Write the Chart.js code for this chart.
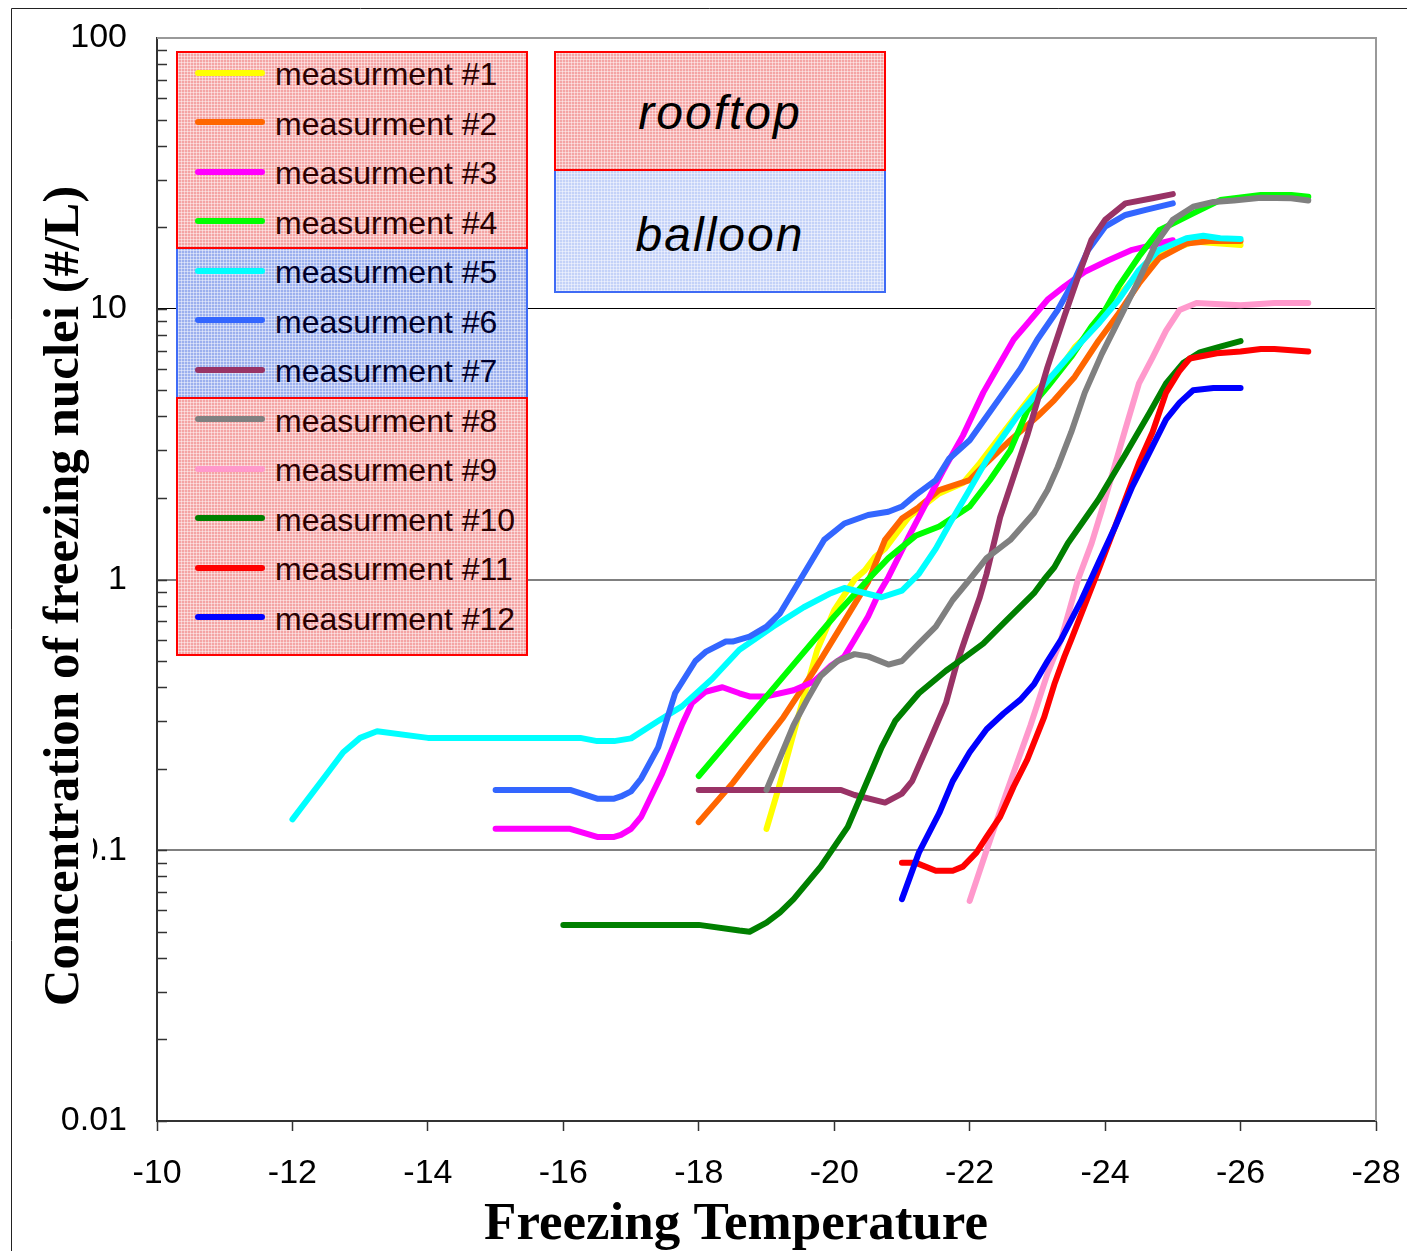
<!DOCTYPE html>
<html>
<head>
<meta charset="utf-8">
<title>Freezing nuclei</title>
<script src="https://cdn.jsdelivr.net/npm/chart.js@4.4.0/dist/chart.umd.min.js"></script>
<style>
  html, body { margin: 0; padding: 0; background: #fff; }
  #wrap { position: relative; width: 1407px; height: 1251px; overflow: hidden; }
  #chart { position: absolute; left: 0; top: 0; }
  .box { position: absolute; box-sizing: border-box; border: 2px solid #ff0000; }
  .red {
    background-color: #f4a4a4;
    background-image: linear-gradient(90deg, rgba(255,255,255,.45) 1px, transparent 1px),
                      linear-gradient(rgba(255,255,255,.45) 1px, transparent 1px);
    background-size: 3px 3px;
  }
  .blue {
    border-color: #3f6bf5;
    background-color: #9cb0ee;
    background-image: linear-gradient(90deg, rgba(255,255,255,.45) 1px, transparent 1px),
                      linear-gradient(rgba(255,255,255,.45) 1px, transparent 1px);
    background-size: 3px 3px;
  }
  .lightblue {
    border-color: #3f6bf5;
    background-color: #c4d2f8;
    background-image: linear-gradient(90deg, rgba(255,255,255,.45) 1px, transparent 1px),
                      linear-gradient(rgba(255,255,255,.45) 1px, transparent 1px);
    background-size: 3px 3px;
  }
  .swatch { position: absolute; left: 195px; width: 70px; height: 6px; border-radius: 3px; }
  .item { position: absolute; left: 275px; font: 32px/32px "Liberation Sans", Arial, sans-serif; white-space: nowrap; }
  .tag { position: absolute; left: 554px; width: 332px; text-align: center; color: #000;
         font: italic 48px/48px "Liberation Sans", Arial, sans-serif; letter-spacing: 2px; }
</style>
</head>
<body>
<div id="wrap">
  <canvas id="chart" width="1407" height="1251"></canvas>
  <div id="legend"></div>
</div>
<script>
// series data: freezing temperature (°C) and concentration (#/L)
const names = ["measurment #1", "measurment #2", "measurment #3", "measurment #4",
               "measurment #5", "measurment #6", "measurment #7", "measurment #8",
               "measurment #9", "measurment #10", "measurment #11", "measurment #12"];
const colors = ["#ffff00", "#ff6600", "#ff00ff", "#00ff00", "#00ffff", "#3366ff",
                "#993366", "#808080", "#ff99cc", "#008000", "#ff0000", "#0000ff"];

const temp1 = [-19, -19.2, -19.45, -19.75, -20, -20.3, -20.45, -20.6, -20.75, -21.1, -21.55, -21.9, -22.15, -22.45, -22.95, -23.35, -23.55, -23.9, -24.2, -24.5, -24.8, -25.3, -25.7, -26];
const conc1 = [0.12, 0.177, 0.30, 0.55, 0.77, 1.0, 1.08, 1.21, 1.3, 1.7, 2.08, 2.27, 2.69, 3.37, 4.9, 6.1, 7.2, 8.8, 11.2, 13.5, 15.8, 17.7, 17.4, 17.2];

const temp2 = [-18, -18.5, -19.25, -19.7, -20.1, -20.5, -20.75, -21, -21.25, -21.55, -22, -22.25, -22.6, -23, -23.25, -23.55, -23.9, -24.2, -24.5, -24.8, -25.2, -25.55, -26];
const conc2 = [0.127, 0.177, 0.31, 0.46, 0.67, 0.98, 1.4, 1.68, 1.85, 2.14, 2.33, 2.7, 3.27, 4.0, 4.6, 5.6, 7.6, 9.6, 12.4, 15.4, 17.4, 17.8, 17.8];

const temp3 = [-15, -16.1, -16.5, -16.75, -16.85, -17, -17.15, -17.45, -17.75, -17.9, -18.1, -18.35, -18.6, -18.75, -19, -19.4, -19.7, -19.95, -20.15, -20.3, -20.5, -20.65, -20.8, -21.1, -21.35, -21.6, -21.9, -22.2, -22.45, -22.65, -22.85, -23.15, -23.4, -23.7, -24.05, -24.4, -24.7, -25];
const conc3 = [0.12, 0.12, 0.112, 0.112, 0.114, 0.12, 0.133, 0.19, 0.29, 0.35, 0.385, 0.40, 0.38, 0.37, 0.37, 0.39, 0.42, 0.48, 0.52, 0.6, 0.73, 0.88, 1.02, 1.44, 1.9, 2.5, 3.4, 4.9, 6.3, 7.7, 8.8, 10.8, 12.1, 13.7, 15.1, 16.5, 17.2, 17.9];

const temp4 = [-18, -19, -19.5, -20, -20.5, -20.8, -21.2, -21.55, -22, -22.3, -22.6, -22.85, -23.15, -23.5, -23.8, -24, -24.2, -24.5, -24.8, -25.3, -25.7, -26.3, -26.75, -27];
const conc4 = [0.188, 0.37, 0.52, 0.73, 1.0, 1.2, 1.45, 1.57, 1.86, 2.33, 3.0, 4.2, 5.15, 6.65, 8.6, 9.9, 12.1, 15.6, 19.5, 22.5, 25.2, 26.3, 26.3, 25.9];

const temp5 = [-12, -12.5, -12.75, -13, -13.25, -14, -16.25, -16.5, -16.75, -17, -17.4, -17.75, -18.2, -18.6, -19.1, -19.55, -19.95, -20.15, -20.7, -21, -21.25, -21.5, -21.7, -22, -22.25, -22.7, -23.2, -23.6, -23.9, -24.2, -24.5, -24.8, -25.2, -25.45, -25.7, -26];
const conc5 = [0.13, 0.19, 0.23, 0.26, 0.275, 0.26, 0.26, 0.253, 0.253, 0.259, 0.30, 0.34, 0.43, 0.55, 0.67, 0.79, 0.89, 0.93, 0.86, 0.91, 1.05, 1.3, 1.6, 2.15, 2.76, 4.0, 5.6, 7.3, 8.8, 10.8, 13.9, 16.5, 18.2, 18.6, 18.2, 18.1];

const temp6 = [-15, -16.1, -16.5, -16.75, -16.85, -17, -17.15, -17.4, -17.65, -17.95, -18.1, -18.4, -18.5, -18.75, -19, -19.2, -19.5, -19.85, -20.15, -20.5, -20.8, -21, -21.2, -21.5, -21.7, -22, -22.25, -22.5, -22.75, -23, -23.3, -23.55, -23.75, -24, -24.3, -24.6, -25];
const conc6 = [0.167, 0.167, 0.155, 0.155, 0.158, 0.165, 0.184, 0.24, 0.38, 0.50, 0.54, 0.59, 0.59, 0.615, 0.67, 0.75, 1.0, 1.4, 1.61, 1.73, 1.78, 1.86, 2.05, 2.33, 2.8, 3.27, 4.0, 4.9, 6.0, 7.7, 9.9, 12.8, 16.5, 20.1, 22.2, 23.2, 24.5];

const temp7 = [-18, -20.1, -20.3, -20.75, -21, -21.15, -21.4, -21.65, -21.8, -21.95, -22.15, -22.25, -22.45, -22.85, -23.15, -23.4, -23.6, -23.8, -24, -24.3, -24.7, -25];
const conc7 = [0.167, 0.167, 0.16, 0.15, 0.162, 0.18, 0.25, 0.35, 0.48, 0.62, 0.86, 1.05, 1.7, 3.4, 6.1, 9.4, 13.1, 18.0, 21.3, 24.5, 25.6, 26.5];

const temp8 = [-19, -19.2, -19.4, -19.6, -19.8, -20.05, -20.3, -20.5, -20.8, -21, -21.25, -21.5, -21.75, -22, -22.25, -22.6, -22.95, -23.15, -23.3, -23.5, -23.7, -23.95, -24.25, -24.5, -24.75, -25, -25.3, -25.6, -25.9, -26.3, -26.75, -27];
const conc8 = [0.167, 0.22, 0.29, 0.36, 0.44, 0.50, 0.53, 0.52, 0.485, 0.50, 0.58, 0.67, 0.84, 1.0, 1.2, 1.4, 1.76, 2.14, 2.6, 3.5, 4.9, 6.8, 9.6, 12.8, 17.4, 21.3, 23.8, 24.8, 25.1, 25.7, 25.6, 25.1];

const temp9 = [-22, -22.25, -22.55, -22.9, -23.15, -23.35, -23.6, -23.8, -23.95, -24.3, -24.5, -24.7, -24.9, -25.1, -25.35, -25.7, -26, -26.5, -27];
const conc9 = [0.065, 0.1, 0.165, 0.29, 0.45, 0.6, 1.0, 1.36, 1.8, 3.6, 5.3, 6.6, 8.3, 9.9, 10.5, 10.4, 10.3, 10.5, 10.5];

const temp10 = [-16, -18, -18.6, -18.75, -19, -19.2, -19.4, -19.8, -20.2, -20.4, -20.7, -20.9, -21.25, -21.65, -21.9, -22.2, -22.55, -22.95, -23.1, -23.25, -23.45, -23.9, -24.3, -24.65, -24.9, -25.15, -25.4, -25.7, -26];
const conc10 = [0.053, 0.053, 0.0505, 0.050, 0.054, 0.059, 0.066, 0.087, 0.122, 0.16, 0.24, 0.30, 0.38, 0.46, 0.51, 0.58, 0.71, 0.89, 1.0, 1.11, 1.36, 1.97, 2.9, 4.1, 5.3, 6.3, 6.9, 7.25, 7.6];

const temp11 = [-21, -21.2, -21.5, -21.75, -21.9, -22.1, -22.25, -22.45, -22.65, -22.85, -23.1, -23.25, -23.4, -23.5, -23.9, -24.2, -24.5, -24.7, -24.9, -25.1, -25.25, -25.65, -26, -26.3, -26.5, -27];
const conc11 = [0.09, 0.09, 0.084, 0.084, 0.087, 0.098, 0.112, 0.133, 0.172, 0.216, 0.31, 0.41, 0.52, 0.6, 1.08, 1.7, 2.7, 3.5, 4.9, 5.9, 6.55, 6.85, 6.95, 7.1, 7.1, 6.95];

const temp12 = [-21, -21.25, -21.55, -21.75, -22, -22.25, -22.5, -22.75, -22.95, -23.15, -23.35, -23.65, -23.9, -24.15, -24.4, -24.7, -24.9, -25.1, -25.3, -25.6, -26];
const conc12 = [0.066, 0.098, 0.137, 0.18, 0.23, 0.28, 0.32, 0.36, 0.41, 0.5, 0.6, 0.84, 1.15, 1.57, 2.2, 3.1, 3.9, 4.5, 5.0, 5.1, 5.1];

const xTicks = [-10, -12, -14, -16, -18, -20, -22, -24, -26, -28];
const yTicks = [0.01, 0.1, 1, 10, 100];
const yTickLabels = ["0.01", "0.1", "1", "10", "100"];
const xTitle = "Freezing Temperature";
const yTitle = "Concentration of freezing nuclei (#/L)";
const groupNames = ["rooftop", "balloon"];

const temps = [temp1, temp2, temp3, temp4, temp5, temp6, temp7, temp8, temp9, temp10, temp11, temp12];
const concs = [conc1, conc2, conc3, conc4, conc5, conc6, conc7, conc8, conc9, conc10, conc11, conc12];

const datasets = names.map(function (n, i) {
  return {
    label: n,
    data: temps[i].map((t, j) => ({ x: t, y: concs[i][j] })),
    borderColor: colors[i],
    backgroundColor: colors[i],
    borderWidth: 6,
    borderCapStyle: "round",
    borderJoinStyle: "round",
    pointRadius: 0,
    tension: 0,
    order: names.length - i,   // later series drawn on top
    fill: false
  };
});

// legend boxes (html overlay)
var legend = document.getElementById("legend");
var html = "";
html += '<div class="box blue" style="left:176px;top:245px;width:352px;height:154px"></div>';
html += '<div class="box red" style="left:176px;top:51px;width:352px;height:198px"></div>';
html += '<div class="box red" style="left:176px;top:397px;width:352px;height:259px"></div>';
names.forEach(function (n, i) {
  var cy = 72.8 + i * 49.5;
  var col = (i >= 4 && i <= 6) ? "#00002a" : "#2a0000";
  html += '<div class="swatch" style="top:' + (cy - 3) + 'px;background:' + colors[i] + '"></div>';
  html += '<div class="item" style="top:' + (cy - 14.4) + 'px;color:' + col + '">' + n + '</div>';
});
html += '<div class="box lightblue" style="left:554px;top:168px;width:332px;height:125px"></div>';
html += '<div class="box red" style="left:554px;top:51px;width:332px;height:120px"></div>';
html += '<div class="tag" style="top:89px">' + groupNames[0] + '</div>';
html += '<div class="tag" style="top:211px">' + groupNames[1] + '</div>';
legend.innerHTML = html;

// extra drawing: frame, inner minor ticks, axis titles
const decor = {
  id: "decor",
  afterDraw(chart) {
    const ctx = chart.ctx, a = chart.chartArea, y = chart.scales.y;
    ctx.save();
    // outer frame
    ctx.strokeStyle = "#222"; ctx.lineWidth = 1;
    ctx.beginPath(); ctx.moveTo(11.5, 1251); ctx.lineTo(11.5, 8.5); ctx.lineTo(1407, 8.5); ctx.stroke();
    // plot frame top / right
    ctx.strokeStyle = "#999"; ctx.lineWidth = 2;
    ctx.beginPath(); ctx.moveTo(a.left, a.top); ctx.lineTo(a.right, a.top); ctx.lineTo(a.right, a.bottom); ctx.stroke();
    // minor ticks inside the y axis
    ctx.strokeStyle = "#333"; ctx.lineWidth = 1.5;
    [0.01, 0.1, 1, 10].forEach(function (d) {
      for (var k = 1; k <= 9; k++) {
        var py = Math.round(y.getPixelForValue(k * d)) + 0.5;
        ctx.beginPath(); ctx.moveTo(a.left, py); ctx.lineTo(a.left + 10, py); ctx.stroke();
      }
    });
    // y title on white box
    ctx.fillStyle = "#fff";
    ctx.fillRect(28, 180, 65, 835);
    ctx.fillStyle = "#000";
    ctx.font = 'bold 51px "Liberation Serif", "Times New Roman", serif';
    ctx.textAlign = "center"; ctx.textBaseline = "alphabetic";
    ctx.save();
    ctx.translate(78, 596); ctx.rotate(-Math.PI / 2);
    ctx.fillText(yTitle, 0, 0);
    ctx.restore();
    // x title
    ctx.font = 'bold 53px "Liberation Serif", "Times New Roman", serif';
    ctx.fillText(xTitle, 736, 1239);
    ctx.restore();
  }
};

const tickFont = { family: '"Liberation Sans", Arial, sans-serif', size: 34 };
function noPad(s) { s.paddingLeft = 0; s.paddingRight = 0; s.paddingTop = 0; s.paddingBottom = 0; }

new Chart(document.getElementById("chart"), {
  type: "line",
  data: { datasets: datasets },
  options: {
    responsive: false,
    animation: false,
    devicePixelRatio: 1,
    layout: { padding: { left: 0, top: 38, right: 31, bottom: 0 } },
    plugins: { legend: { display: false }, tooltip: { enabled: false } },
    scales: {
      x: {
        type: "linear", min: -28, max: -10, reverse: true,
        afterFit: function (s) { s.height = 130; noPad(s); },
        afterBuildTicks: function (s) { s.ticks = xTicks.map(v => ({ value: v })); },
        ticks: { font: tickFont, color: "#000", padding: 22, maxRotation: 0, autoSkip: false,
                 callback: v => String(v) },
        grid: { drawOnChartArea: false, drawTicks: true, tickLength: 10, tickColor: "#333", tickWidth: 1.5 },
        border: { color: "#333", width: 2 }
      },
      y: {
        type: "logarithmic", min: 0.01, max: 100,
        afterFit: function (s) { s.width = 157; noPad(s); },
        afterBuildTicks: function (s) { s.ticks = yTicks.map(v => ({ value: v })); },
        ticks: { font: tickFont, color: "#000", padding: 30, autoSkip: false,
                 callback: (v, i) => yTickLabels[i] },
        grid: {
          drawTicks: false,
          color: function (c) {
            var v = c.tick && c.tick.value;
            if (v === 10) return "#000";
            if (v === 1 || v === 0.1) return "#808080";
            return "rgba(0,0,0,0)";
          },
          lineWidth: function (c) { return (c.tick && c.tick.value === 10) ? 1 : 2; }
        },
        border: { color: "#333", width: 2 }
      }
    }
  },
  plugins: [decor]
});
</script>
</body>
</html>
